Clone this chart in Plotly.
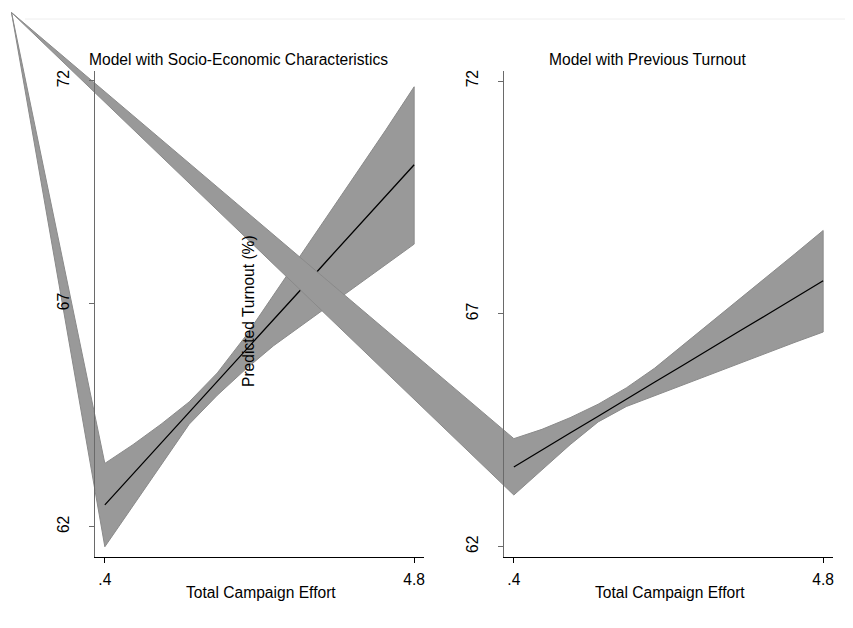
import plotly.graph_objects as go

# ---------------- data ----------------
effort = [0.4, 0.8, 1.2, 1.6, 2.0, 2.4, 2.8, 3.2, 3.6, 4.0, 4.4, 4.8]

# Model with Socio-Economic Characteristics
se_pred = [62.49, 63.18, 63.87, 64.57, 65.26, 65.96, 66.65, 67.34, 68.04, 68.73, 69.43, 70.12]
se_upper = [63.42, 63.84, 64.30, 64.80, 65.45, 66.27, 67.19, 68.12, 69.05, 69.98, 70.91, 71.87]
se_lower = [61.55, 62.47, 63.39, 64.30, 64.95, 65.53, 66.06, 66.51, 66.97, 67.42, 67.88, 68.34]

# Model with Previous Turnout
pt_pred = [63.71, 64.08, 64.44, 64.80, 65.17, 65.53, 65.89, 66.26, 66.62, 66.98, 67.35, 67.71]
pt_upper = [64.32, 64.52, 64.77, 65.06, 65.41, 65.83, 66.32, 66.81, 67.31, 67.80, 68.29, 68.79]
pt_lower = [63.11, 63.65, 64.19, 64.68, 65.01, 65.25, 65.47, 65.70, 65.93, 66.16, 66.39, 66.61]

x_tickvals = [0.4, 4.8]
x_ticktext = [".4", "4.8"]
y_tickvals = [62, 67, 72]
y_ticktext = ["62", "67", "72"]

panel_titles = ["Model with Socio-Economic Characteristics", "Model with Previous Turnout"]
x_title = "Total Campaign Effort"
y_title = "Predicted Turnout (%)"

# ---------------- layout geometry (pixels in the 853x628 window) ----------------
WIN_W, WIN_H = 853, 628
OFF = 8                      # default page margin of the html body
W, H = WIN_W - OFF, WIN_H - OFF
FONT = "Liberation Sans, Arial, Helvetica, sans-serif"
FS = 15.6

LEFT_XDOM = (95, 424)
RIGHT_XDOM = (504, 833)
YDOM = (71, 556.7)           # top, bottom in px from top
X_RANGE = (0.26, 4.94)
LEFT_YRANGE = (61.327, 72.224)
RIGHT_YRANGE = (61.785, 72.215)
APEX_PX = (11.5, 12.5)       # stray vertex where each band path starts


def px(v):
    return v - OFF


def xdom(d):
    return [px(d[0]) / W, px(d[1]) / W]


def ydom(d):
    return [1 - px(d[1]) / H, 1 - px(d[0]) / H]


def full_x(rng, d):
    upp = (rng[1] - rng[0]) / (d[1] - d[0])
    return [rng[0] - px(d[0]) * upp, rng[1] + (W - px(d[1])) * upp], upp


def full_y(rng, d):
    upp = (rng[1] - rng[0]) / (d[1] - d[0])
    return [rng[0] - (H - px(d[1])) * upp, rng[1] + px(d[0]) * upp], upp


BAND_FILL = "#999999"
BAND_EDGE = "#8a8a8a"

fig = go.Figure()

panels = [
    (effort, se_pred, se_upper, se_lower, LEFT_XDOM, LEFT_YRANGE, "x", "y"),
    (effort, pt_pred, pt_upper, pt_lower, RIGHT_XDOM, RIGHT_YRANGE, "x2", "y2"),
]

layout_axes = {}
for i, (xs, pred, up, lo, xd, yr, xa, ya) in enumerate(panels):
    fxr, ux = full_x(X_RANGE, xd)
    fyr, uy = full_y(yr, YDOM)
    apex_x = fxr[0] + px(APEX_PX[0]) * ux
    apex_y = fyr[1] - px(APEX_PX[1]) * uy
    bx = [apex_x] + list(xs) + list(xs[::-1]) + [apex_x]
    by = [apex_y] + list(up) + list(lo[::-1]) + [apex_y]
    fig.add_trace(go.Scatter(x=bx, y=by, mode="lines", fill="toself",
                             fillcolor=BAND_FILL, line=dict(color=BAND_EDGE, width=1),
                             xaxis=xa, yaxis=ya, hoverinfo="skip", showlegend=False))
    fig.add_trace(go.Scatter(x=xs, y=pred, mode="lines",
                             line=dict(color="black", width=1.3),
                             xaxis=xa, yaxis=ya, showlegend=False))
    n = "" if i == 0 else "2"
    layout_axes["xaxis" + n] = dict(domain=[0, 1], range=fxr, visible=False,
                                    anchor=ya, fixedrange=True)
    layout_axes["yaxis" + n] = dict(domain=[0, 1], range=fyr, visible=False,
                                    anchor=xa, fixedrange=True)

# visible frames
for i, (xd, yr) in enumerate([(LEFT_XDOM, LEFT_YRANGE), (RIGHT_XDOM, RIGHT_YRANGE)]):
    k = str(i + 3)
    fig.add_trace(go.Scatter(x=[None], y=[None], xaxis="x" + k, yaxis="y" + k,
                             showlegend=False, hoverinfo="skip"))
    layout_axes["xaxis" + k] = dict(
        domain=xdom(xd), range=list(X_RANGE), anchor="y" + k,
        showline=True, linecolor="black", linewidth=1.2,
        ticks="outside", ticklen=5, tickcolor="black", tickwidth=1,
        tickvals=x_tickvals, ticktext=x_ticktext, showgrid=False, zeroline=False,
        tickfont=dict(family=FONT, size=FS, color="black"), ticklabelstandoff=3,
        fixedrange=True)
    layout_axes["yaxis" + k] = dict(
        domain=ydom(YDOM), range=list(yr), anchor="x" + k,
        showline=True, linecolor="#6a6a6a", linewidth=1.2,
        ticks="outside", ticklen=5, tickcolor="#6a6a6a", tickwidth=1,
        tickvals=y_tickvals, ticktext=y_ticktext, tickangle=-90,
        showgrid=False, zeroline=False,
        tickfont=dict(family=FONT, size=FS, color="black"), ticklabelstandoff=14,
        fixedrange=True)


def ann(text, x, y, angle=0):
    return dict(text=text, x=px(x) / W, y=1 - px(y) / H, xref="paper", yref="paper",
                showarrow=False, xanchor="center", yanchor="middle", textangle=angle,
                font=dict(family=FONT, size=FS, color="black"))


annotations = [
    ann(panel_titles[0], 238, 59),
    ann(panel_titles[1], 647.5, 59),
    ann(x_title, 261, 592),
    ann(x_title, 670, 592),
    ann(y_title, 248, 311, -90),
]

fig.update_layout(
    width=W, height=H, margin=dict(l=0, r=0, t=0, b=0),
    paper_bgcolor="white", plot_bgcolor="rgba(0,0,0,0)",
    showlegend=False, annotations=annotations,
    shapes=[dict(type="line", xref="paper", yref="paper", x0=px(25) / W, x1=1,
                 y0=1 - px(19) / H, y1=1 - px(19) / H,
                 line=dict(color="#eeeeee", width=1))],
    **layout_axes,
)

fig.write_html("out.html", config={"displayModeBar": False})
